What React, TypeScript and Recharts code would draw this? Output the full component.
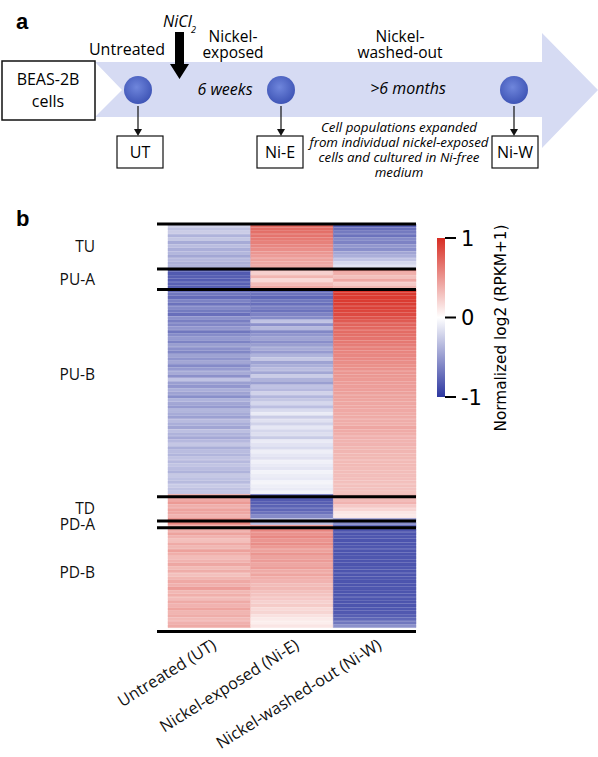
import React from "react";
import { BarChart, Bar, XAxis, YAxis, Cell, ReferenceLine } from "recharts";

// ---- data ----
const columns = ["Untreated (UT)", "Nickel-exposed (Ni-E)", "Nickel-washed-out (Ni-W)"];
const clusterNames = ["TU", "PU-A", "PU-B", "TD", "PD-A", "PD-B"];
// row index (from top) where each cluster label sits
const clusterLabelRow = [6.5, 16, 43.5, 82.5, 87, 101];

const tuUT = [-0.22, -0.3, -0.25, -0.38, -0.28, -0.42, -0.33, -0.4, -0.36, -0.44, -0.35, -0.39, -0.37];
const tuNE = [0.72, 0.7, 0.68, 0.66, 0.63, 0.6, 0.57, 0.54, 0.5, 0.47, 0.44, 0.42, 0.4];
const tuNW = [-0.78, -0.72, -0.66, -0.7, -0.58, -0.62, -0.52, -0.56, -0.45, -0.4, -0.3, -0.2, -0.14];

const puaUT = [-0.8, -0.82, -0.8, -0.81, -0.79, -0.8];
const puaNE = [0.3, 0.22, 0.35, 0.18, 0.32, 0.4];
const puaNW = [0.55, 0.38, 0.3, 0.42, 0.25, 0.35];

const pubUT = [
  -0.72, -0.68, -0.74, -0.62, -0.7, -0.58, -0.66, -0.72, -0.55, -0.64,
  -0.6, -0.52, -0.68, -0.57, -0.5, -0.62, -0.48, -0.55, -0.6, -0.46,
  -0.53, -0.44, -0.58, -0.5, -0.42, -0.55, -0.3, -0.48, -0.52, -0.4,
  -0.46, -0.56, -0.38, -0.44, -0.5, -0.36, -0.42, -0.47, -0.34, -0.4,
  -0.45, -0.32, -0.38, -0.43, -0.35, -0.28, -0.4, -0.33, -0.37, -0.3,
  -0.35, -0.29, -0.33, -0.38, -0.27, -0.31, -0.34, -0.26, -0.3, -0.28,
];
const pubNE = [
  -0.74, -0.7, -0.76, -0.68, -0.72, -0.64, -0.7, -0.62, -0.58, -0.3,
  -0.55, -0.35, -0.6, -0.52, -0.45, -0.56, -0.48, -0.42, -0.5, -0.38,
  -0.28, -0.46, -0.4, -0.33, -0.44, -0.25, -0.38, -0.48, -0.3, -0.35,
  -0.22, -0.36, -0.28, -0.2, -0.32, -0.18, -0.1, -0.25, -0.15, -0.22,
  -0.12, -0.2, -0.16, -0.26, -0.1, -0.14, -0.18, -0.08, -0.12, -0.15,
  -0.07, -0.1, -0.13, -0.06, -0.09, -0.11, -0.05, -0.08, -0.1, -0.06,
];
const pubNW = [
  0.95, 0.94, 0.93, 0.93, 0.92, 0.9, 0.88, 0.86, 0.82, 0.78,
  0.74, 0.72, 0.7, 0.68, 0.66, 0.64, 0.62, 0.6, 0.58, 0.57,
  0.56, 0.54, 0.53, 0.52, 0.5, 0.49, 0.48, 0.47, 0.46, 0.46,
  0.45, 0.44, 0.43, 0.42, 0.42, 0.41, 0.4, 0.4, 0.39, 0.38,
  0.42, 0.4, 0.38, 0.37, 0.36, 0.36, 0.35, 0.35, 0.34, 0.34,
  0.33, 0.33, 0.32, 0.32, 0.31, 0.31, 0.3, 0.3, 0.29, 0.28,
];

const tdUT = [0.45, 0.4, 0.48, 0.38, 0.44, 0.42, 0.36];
const tdNE = [-0.8, -0.82, -0.8, -0.78, -0.76, -0.7, -0.58];
const tdNW = [0.4, 0.32, 0.36, 0.26, 0.2, 0.12, 0.1];

const pdaUT = [0.62, 0.58];
const pdaNE = [-0.38, -0.34];
const pdaNW = [-0.55, -0.58];

const pdbUT = [
  0.42, 0.38, 0.44, 0.36, 0.3, 0.4, 0.34, 0.45, 0.38, 0.32,
  0.36, 0.42, 0.33, 0.39, 0.3, 0.35, 0.41, 0.37, 0.46, 0.34,
  0.38, 0.32, 0.4, 0.36, 0.43, 0.35, 0.39, 0.33, 0.37, 0.4,
];
const pdbNE = [
  0.55, 0.58, 0.52, 0.56, 0.5, 0.54, 0.48, 0.45, 0.5, 0.44,
  0.47, 0.42, 0.46, 0.4, 0.43, 0.38, 0.36, 0.32, 0.34, 0.3,
  0.28, 0.26, 0.22, 0.25, 0.18, 0.2, 0.14, 0.1, 0.08, 0.12,
];
const pdbNW = [
  -0.84, -0.85, -0.85, -0.84, -0.85, -0.85, -0.84, -0.85, -0.85, -0.84,
  -0.85, -0.85, -0.84, -0.85, -0.85, -0.84, -0.85, -0.85, -0.84, -0.85,
  -0.85, -0.84, -0.85, -0.85, -0.84, -0.83, -0.8, -0.76, -0.68, -0.55,
];

const clusterValues = [
  [tuUT, tuNE, tuNW],
  [puaUT, puaNE, puaNW],
  [pubUT, pubNE, pubNW],
  [tdUT, tdNE, tdNW],
  [pdaUT, pdaNE, pdaNW],
  [pdbUT, pdbNE, pdbNW],
];

const colorbarTicks = [1, 0, -1];

// ---- build table ----
type Row = { id: string; ut: number; ne: number; nw: number; c0: number; c1: number; c2: number };
const rows: Row[] = [];
const boundaries: number[] = [0];
clusterValues.forEach((cv, ci) => {
  cv[0].forEach((_, i) => {
    rows.push({ id: `${clusterNames[ci]}-${i}`, ut: cv[0][i], ne: cv[1][i], nw: cv[2][i], c0: 1, c1: 1, c2: 1 });
  });
  boundaries.push(rows.length);
});
const N = rows.length;

const BLUE = [45, 55, 160];
const RED = [215, 45, 35];
function heat(v: number): string {
  const t = Math.max(-1, Math.min(1, v));
  const end = t < 0 ? BLUE : RED;
  const a = Math.abs(t);
  const c = end.map((e) => Math.round(255 + (e - 255) * a));
  return `rgb(${c[0]},${c[1]},${c[2]})`;
}

const FONT = "'Open Sans', sans-serif";
const DV = "'DejaVu Sans', sans-serif";

const XTick = (props: any) => {
  const { x, y, payload } = props;
  const idx = Math.floor(payload.value);
  const ax = x + 8;
  const ay = y + 12;
  return (
    <text x={ax} y={ay} textAnchor="end" fontFamily={FONT} fontSize={16.3} fill="#111"
      transform={`rotate(-32, ${ax}, ${ay})`}>
      {columns[idx]}
    </text>
  );
};

const YTick = (props: any) => {
  const { x, y, payload } = props;
  const idx = clusterLabelRow.indexOf(payload.value);
  return (
    <text x={x - 5} y={y} dy="0.35em" textAnchor="end" fontFamily={FONT} fontSize={15.5} fill="#111">
      {clusterNames[idx]}
    </text>
  );
};

const keys: (keyof Row)[] = ["ut", "ne", "nw"];

function Schematic() {
  const circles = [138, 281, 514];
  const boxes = [
    { x: 117, label: "UT" },
    { x: 257, label: "Ni-E" },
    { x: 492, label: "Ni-W" },
  ];
  return (
    <svg width={598} height={757} style={{ position: "absolute", left: 0, top: 0, pointerEvents: "none" }}>
      <defs>
        <radialGradient id="dot" cx="45%" cy="40%" r="60%">
          <stop offset="0%" stopColor="#6f86dc" />
          <stop offset="100%" stopColor="#3f55b6" />
        </radialGradient>
        <linearGradient id="cbar" x1="0" y1="0" x2="0" y2="1">
          <stop offset="0%" stopColor={heat(1)} />
          <stop offset="50%" stopColor="#ffffff" />
          <stop offset="100%" stopColor={heat(-1)} />
        </linearGradient>
      </defs>
      <text x={16} y={29} fontFamily="'Liberation Sans', Arial, sans-serif" fontWeight="bold" fontSize={22}>a</text>
      <text x={16} y={226} fontFamily="'Liberation Sans', Arial, sans-serif" fontWeight="bold" fontSize={22}>b</text>

      <polygon points="95,62 542,62 542,33 598,90 542,148 542,117 95,117 122,90" fill="#d6dbf3" />
      <rect x={2} y={61} width={93} height={59} fill="#fff" stroke="#111" strokeWidth={1.5} />
      <text x={48} y={85} textAnchor="middle" fontFamily={FONT} fontSize={16}>BEAS-2B</text>
      <text x={48} y={107} textAnchor="middle" fontFamily={FONT} fontSize={16}>cells</text>

      {circles.map((cx) => (
        <g key={cx}>
          <circle cx={cx} cy={90} r={14} fill="url(#dot)" />
          <line x1={cx} y1={106} x2={cx} y2={130} stroke="#111" strokeWidth={1.2} />
          <polygon points={`${cx - 4},129 ${cx + 4},129 ${cx},136`} fill="#111" />
        </g>
      ))}
      {boxes.map((b) => (
        <g key={b.label}>
          <rect x={b.x} y={136} width={46} height={32} fill="#fff" stroke="#111" strokeWidth={1.2} />
          <text x={b.x + 23} y={158} textAnchor="middle" fontFamily={FONT} fontSize={16}>{b.label}</text>
        </g>
      ))}

      <polygon points="175,32 184,32 184,64 189,64 179.5,79 170,64 175,64" fill="#000" />
      <text x={163} y={27} fontFamily={FONT} fontStyle="italic" fontSize={16}>NiCl</text>
      <text x={191} y={33} fontFamily={FONT} fontStyle="italic" fontSize={9}>2</text>

      <text x={127} y={55} textAnchor="middle" fontFamily={FONT} fontSize={16}>Untreated</text>
      <text x={233} y={42} textAnchor="middle" fontFamily={FONT} fontSize={15.5}>Nickel-</text>
      <text x={233} y={58} textAnchor="middle" fontFamily={FONT} fontSize={15.5}>exposed</text>
      <text x={225} y={95} textAnchor="middle" fontFamily={FONT} fontStyle="italic" fontSize={16}>6 weeks</text>
      <text x={400} y={42} textAnchor="middle" fontFamily={FONT} fontSize={15.5}>Nickel-</text>
      <text x={400} y={58} textAnchor="middle" fontFamily={FONT} fontSize={15.5}>washed-out</text>
      <text x={408} y={94} textAnchor="middle" fontFamily={FONT} fontStyle="italic" fontSize={16}>&gt;6 months</text>
      {["Cell populations expanded", "from individual nickel-exposed", "cells and cultured in Ni-free", "medium"].map((t, i) => (
        <text key={t} x={399} y={132 + i * 15} textAnchor="middle" fontFamily={FONT} fontStyle="italic" fontSize={13.3}>{t}</text>
      ))}

      {/* colour bar */}
      <rect x={437} y={238} width={8} height={159} fill="url(#cbar)" />
      {colorbarTicks.map((t) => {
        const y = 238 + ((1 - t) / 2) * 159;
        return (
          <g key={t}>
            <line x1={445} y1={y} x2={456} y2={y} stroke="#000" strokeWidth={2} />
            <text x={461} y={y} dy="0.36em" fontFamily={DV} fontSize={21}>{t}</text>
          </g>
        );
      })}
      <text x={506} y={328} textAnchor="middle" fontFamily={DV} fontSize={15.3}
        transform="rotate(-90, 506, 328)">Normalized log2 (RPKM+1)</text>
    </svg>
  );
}

export default function App() {
  return (
    <div style={{ position: "absolute", left: 0, top: 0, width: 598, height: 757, background: "#fff" }}>
      <BarChart
        width={598}
        height={757}
        data={rows}
        layout="vertical"
        barCategoryGap={0}
        barGap={0}
        margin={{ top: 224, right: 182, bottom: 119, left: 128 }}
      >
        <XAxis type="number" domain={[0, 3]} ticks={[0.5, 1.5, 2.5]} interval={0}
          axisLine={false} tickLine={false} height={10} tick={<XTick />} />
        <YAxis yAxisId="cat" type="category" dataKey="id" hide />
        <YAxis yAxisId="num" type="number" domain={[0, N]} ticks={clusterLabelRow}
          interval={0} axisLine={false} tickLine={false} width={40} tick={<YTick />} allowDataOverflow />
        {keys.map((k, ki) => (
          <Bar key={k} dataKey={`c${ki}`} stackId="h" yAxisId="cat" isAnimationActive={false}>
            {rows.map((r) => (
              <Cell key={r.id} fill={heat(r[k] as number)} stroke={heat(r[k] as number)} strokeWidth={0.5} />
            ))}
          </Bar>
        ))}
        {boundaries.map((b) => (
          <ReferenceLine key={b} yAxisId="num" ifOverflow="visible"
            segment={[{ x: -0.133, y: b }, { x: 3, y: b }]} stroke="#000" strokeWidth={3} />
        ))}
      </BarChart>
      <Schematic />
    </div>
  );
}
